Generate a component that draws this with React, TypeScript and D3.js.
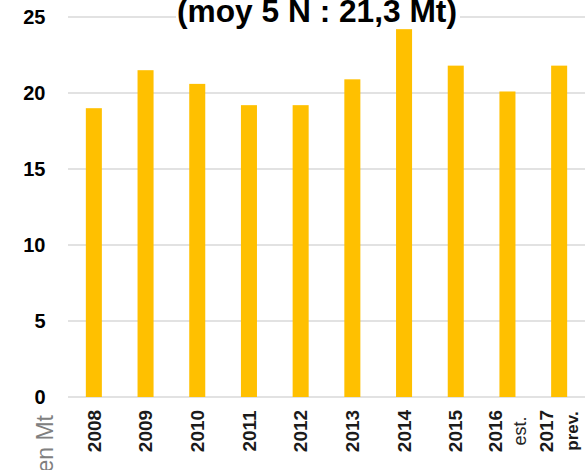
import React from "react";
import * as d3 from "d3";

const categories: string[] = ["2008", "2009", "2010", "2011", "2012", "2013", "2014", "2015", "2016", "2017"];
const categoryNotes: string[] = ["", "", "", "", "", "", "", "", "est.", "prev."];
const values: number[] = [19.0, 21.5, 20.6, 19.2, 19.2, 20.9, 24.2, 21.8, 20.1, 21.8];
const yTicks: number[] = [0, 5, 10, 15, 20, 25];
const title = "(moy 5 N : 21,3 Mt)";
const yAxisTitle = "en Mt";

const W = 588;
const H = 470;
const FONT = "'Liberation Sans', Arial, sans-serif";

export default function App() {
  const x = d3
    .scaleBand<string>()
    .domain(categories)
    .range([68, 585])
    .paddingInner(0.69)
    .paddingOuter(0.345);
  const y = d3.scaleLinear().domain([0, 25]).range([397, 17]);
  const bw = x.bandwidth();

  return (
    <svg
      width={W}
      height={H}
      style={{ position: "absolute", left: 0, top: 0, background: "#fff", overflow: "hidden" }}
      fontFamily={FONT}
    >
      <rect x={0} y={0} width={W} height={H} fill="#fff" />
      {yTicks.map((t) => (
        <line key={"g" + t} x1={68} x2={585} y1={y(t)} y2={y(t)} stroke="#d9d9d9" strokeWidth={1.3} />
      ))}
      {yTicks.map((t) => (
        <text
          key={"t" + t}
          x={45.5}
          y={y(t)}
          dy="0.36em"
          textAnchor="end"
          fontSize={20}
          fontWeight="bold"
          fill="#000"
        >
          {t}
        </text>
      ))}
      {categories.map((c, i) => (
        <rect key={"b" + c} x={x(c)} y={y(values[i])} width={bw} height={y(0) - y(values[i])} fill="#FFC000" />
      ))}
      {categories.map((c, i) => {
        const cx = (x(c) as number) + bw / 2;
        const lines = categoryNotes[i] ? [c, categoryNotes[i]] : [c];
        const n = lines.length;
        return lines.map((ln, j) => {
          const off = (j - (n - 1) / 2) * 25;
          const isNote = j > 0;
          return (
            <text
              key={"l" + c + j}
              transform={`translate(${cx + off},431) rotate(-90)`}
              dy="0.35em"
              textAnchor="middle"
              fontSize={isNote ? (ln === "prev." ? 17 : 18) : 19}
              fontWeight={isNote && ln === "est." ? "normal" : "bold"}
              fill={isNote && ln === "est." ? "#262626" : "#1a1a1a"}
            >
              {ln}
            </text>
          );
        });
      })}
      <text
        transform="translate(53,415) rotate(-90)"
        textAnchor="end"
        fontSize={23}
        fill="#808080"
      >
        {yAxisTitle}
      </text>
      <rect x={176} y={0} width={284} height={25} fill="#fff" />
      <text x={317} y={22} textAnchor="middle" fontSize={31.7} fontWeight="bold" fill="#000">
        {title}
      </text>
    </svg>
  );
}
